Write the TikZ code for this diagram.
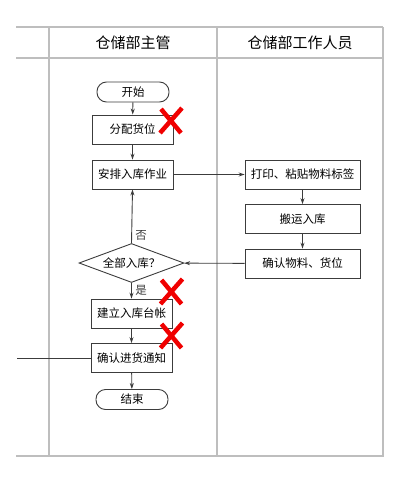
\documentclass[tikz,border=0pt]{standalone}
\usepackage{fontspec}
\setmainfont{Noto Sans CJK SC}
\usepackage{tikz}
\usetikzlibrary{arrows.meta,positioning,shapes.geometric}
\definecolor{gridgray}{RGB}{190,190,190}
\definecolor{linegray}{RGB}{60,60,60}
\definecolor{markred}{RGB}{240,0,0}

\begin{document}
\begin{tikzpicture}[x=1pt, y=-1pt,
      proc/.style={draw=linegray, line width=0.9pt, fill=white,
                   minimum width=81pt, minimum height=29pt,
                   inner sep=1pt, font=\fontsize{11.5}{13}\selectfont},
      term/.style={draw=linegray, line width=0.9pt, rounded corners=9.5pt,
                   minimum width=72pt, minimum height=20pt,
                   inner sep=1pt, font=\fontsize{11.5}{13}\selectfont},
      choice/.style={diamond, draw=linegray, line width=0.9pt, aspect=2.7,
                     minimum width=105pt, minimum height=39pt, inner sep=0pt,
                     font=\fontsize{11.5}{13}\selectfont},
      lane/.style={draw=gridgray, line width=1.2pt},
      arr/.style={-{Stealth[length=6pt,width=4pt]}, line width=0.9pt, color=linegray},
      ln/.style={line width=0.9pt, color=linegray},
      cross/.style={draw=markred, line width=4.5pt}
  ]
    \useasboundingbox (0,0) rectangle (400,482);
    % swimlane table
    \draw[lane] (16,27) -- (383,27);
    \draw[lane] (16,58) -- (383,58);
    \draw[lane] (16,456) -- (384,456);
    \draw[lane] (49,27) -- (49,456);
    \draw[lane] (217,27) -- (217,456);
    \draw[lane] (383,27) -- (383,456);
    \node[font=\fontsize{15}{17}\selectfont] (hmgr) at (133,43) {仓储部主管};
    \node[font=\fontsize{15}{17}\selectfont] (hstaff) at (300,43) {仓储部工作人员};
    % manager lane
    \node[term] (start) at (133,92) {开始};
    \node[proc] (alloc) at (132.5,129.5) {分配货位};
    \node[proc] (plan) at (132.5,174.5) {安排入库作业};
    \node[choice] (check) at (131.5,263) {全部入库？};
    \node[proc] (ledger) at (131.5,313.5) {建立入库台帐};
    \node[proc] (notice) at (131.5,358) {确认进货通知};
    \node[term] (stop) at (132,399.5) {结束};
    % staff lane
    \node[proc, minimum width=115pt] (label) at (302.5,174.5) {打印、粘贴物料标签};
    \node[proc, minimum width=115pt] (move) at (302.5,219) {搬运入库};
    \node[proc, minimum width=115pt] (confirm) at (302.5,263.5) {确认物料、货位};
    \coordinate (ext) at (17,358);
    % connectors
    \draw[arr] (start) -- (alloc);
    \draw[arr] (alloc) -- (plan);
    \draw[arr] (plan) -- (label);
    \draw[arr] (label) -- (move);
    \draw[arr] (move) -- (confirm);
    \draw[arr] (confirm) -- (check);
    \draw[arr] (check.north) -- node[right, pos=0.15, font=\fontsize{11.5}{13}\selectfont] {否} (plan.south);
    \draw[arr] (check.south) -- node[right, pos=0.45, font=\fontsize{11.5}{13}\selectfont] {是} (ledger.north);
    \draw[arr] (ledger) -- (notice);
    \draw[arr] (notice) -- (stop);
    \draw[ln] (ext) -- (notice.west);
    % red marks
    \foreach \cx/\cy in {171/121, 171.5/292, 171.5/336} {
      \draw[cross] (\cx-10,\cy-12) -- (\cx+10,\cy+12);
      \draw[cross] (\cx+11,\cy-13) -- (\cx-11,\cy+12);
    }
  \end{tikzpicture}
\end{document}
